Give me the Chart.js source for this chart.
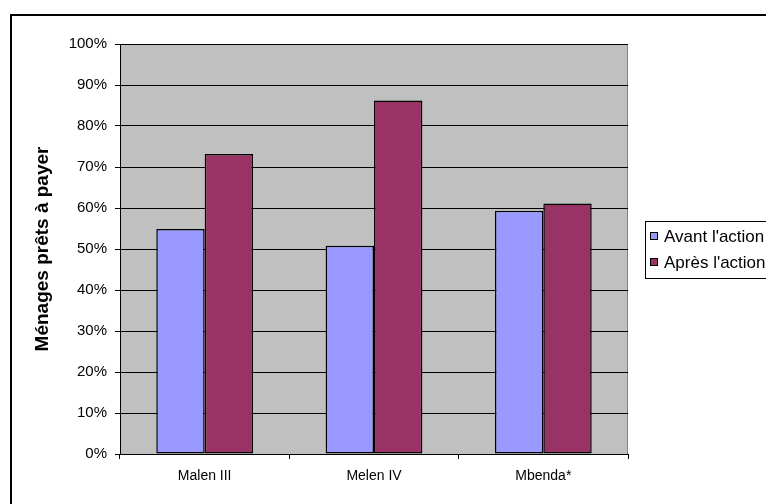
<!DOCTYPE html>
<html>
<head>
<meta charset="utf-8">
<script src="https://cdn.jsdelivr.net/npm/chart.js@4/dist/chart.umd.min.js"></script>
<style>
  html, body { margin: 0; padding: 0; background: #fff; }
  canvas { display: block; }
</style>
</head>
<body>
<canvas id="c" width="766" height="504"></canvas>
<script>
// Share of households ready to pay, by site, before and after the action (%)
const categories = ['Malen III', 'Melen IV', 'Mbenda*'];
const avantAction = [54.9, 50.8, 59.3];
const apresAction = [73.2, 86.2, 61.1];
const seriesNames = ["Avant l'action", "Après l'action"];
const yTicks = [0, 10, 20, 30, 40, 50, 60, 70, 80, 90, 100];
const yTitle = 'Ménages prêts à payer';

const FONT = 'Arial, "Liberation Sans", sans-serif';
const BLUE = '#9999FF';
const PLUM = '#993366';

// Outer frame, grey plot background and the plot-area outline
const frame = {
  id: 'frame',
  beforeDraw(chart) {
    const { ctx, chartArea: a } = chart;
    ctx.save();
    ctx.fillStyle = '#fff';
    ctx.fillRect(0, 0, chart.width, chart.height);
    ctx.strokeStyle = '#000';
    ctx.lineWidth = 2;
    ctx.strokeRect(11, 15, 900, 700);
    ctx.fillStyle = '#C0C0C0';
    ctx.fillRect(a.left, a.top, a.right - a.left, a.bottom - a.top);
    ctx.strokeStyle = '#808080';
    ctx.lineWidth = 1;
    ctx.strokeRect(a.left + 0.5, a.top + 0.5, a.right - a.left - 1, a.bottom - a.top);
    ctx.restore();
  }
};

// Boxed legend to the right of the plot
const boxLegend = {
  id: 'boxLegend',
  afterDraw(chart) {
    const { ctx } = chart;
    const x = 645, y = 221;
    ctx.save();
    ctx.fillStyle = '#fff';
    ctx.fillRect(x, y, 200, 57);
    ctx.strokeStyle = '#000';
    ctx.lineWidth = 1;
    ctx.strokeRect(x + 0.5, y + 0.5, 200, 57);
    ctx.font = '17px ' + FONT;
    ctx.textBaseline = 'middle';
    chart.data.datasets.forEach((ds, i) => {
      const cy = y + 15 + i * 26;
      ctx.fillStyle = ds.backgroundColor;
      ctx.fillRect(x + 5, cy - 4, 8, 8);
      ctx.strokeStyle = '#000';
      ctx.strokeRect(x + 5.5, cy - 3.5, 7, 7);
      ctx.fillStyle = '#000';
      ctx.fillText(ds.label, x + 19, cy + 1);
    });
    ctx.restore();
  }
};

new Chart(document.getElementById('c'), {
  type: 'bar',
  data: {
    labels: categories,
    datasets: [
      { label: seriesNames[0], data: avantAction, backgroundColor: BLUE, borderColor: '#000', borderWidth: 1.5, borderSkipped: false },
      { label: seriesNames[1], data: apresAction, backgroundColor: PLUM, borderColor: '#000', borderWidth: 1.5, borderSkipped: false }
    ]
  },
  options: {
    responsive: false,
    animation: false,
    devicePixelRatio: 1,
    layout: { padding: { left: 0, top: 44, right: 138, bottom: 0 } },
    datasets: { bar: { categoryPercentage: 2 / 3.5, barPercentage: 1 } },
    plugins: { legend: { display: false }, tooltip: { enabled: false } },
    scales: {
      x: {
        afterFit(s) { s.height = 50; },
        grid: { offset: true, drawOnChartArea: false, drawTicks: true, tickLength: 5, color: '#000' },
        border: { display: true, color: '#000' },
        ticks: { color: '#000', font: { family: FONT, size: 14 }, padding: 9, maxRotation: 0 }
      },
      y: {
        min: 0,
        max: 100,
        afterFit(s) { s.width = 120; },
        afterBuildTicks(s) { s.ticks = yTicks.map(v => ({ value: v })); },
        grid: { color: '#000', tickLength: 5, drawTicks: true },
        border: { display: true, color: '#000' },
        ticks: {
          color: '#000',
          font: { family: FONT, size: 15 },
          padding: 8,
          callback: v => v + '%'
        },
        title: {
          display: true,
          text: yTitle,
          color: '#000',
          font: { family: FONT, size: 19, weight: 'bold' },
          padding: { top: 31, bottom: 0 }
        }
      }
    }
  },
  plugins: [frame, boxLegend]
});
</script>
</body>
</html>
